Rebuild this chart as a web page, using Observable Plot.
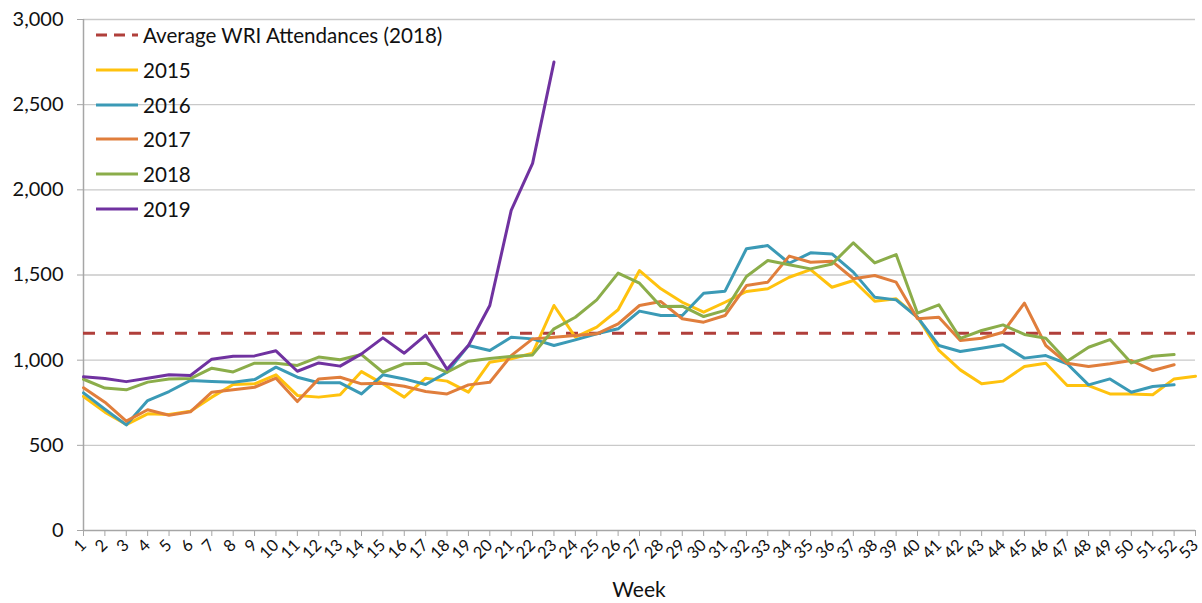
<!DOCTYPE html>
<html><head><meta charset="utf-8">
<script src="https://cdn.jsdelivr.net/npm/d3@7"></script>
<script src="https://cdn.jsdelivr.net/npm/@observablehq/plot@0.6"></script>
<style>
body{margin:0;background:#fff;font-family:Lato,"Open Sans",sans-serif;}
#wrap{position:relative;width:1202px;height:603px;}
#legend{position:absolute;left:96px;top:18px;font-size:20.6px;color:#111;}
.row{display:flex;align-items:center;height:34.7px;white-space:nowrap;}
.row svg{margin-right:5px;}
#xlabel{position:absolute;left:0;width:1278px;top:576px;text-align:center;font-size:21px;color:#111;}
</style></head>
<body>
<div id="wrap">
<div id="chart"></div>
<div id="legend"></div>
<div id="xlabel">Week</div>
</div>
<script>
const weeks = d3.range(1, 54);
const years = ["2015", "2016", "2017", "2018", "2019"];
const colors = ["#FFC20E", "#3B9AB6", "#E07E3C", "#8BAD4A", "#7032A0"];
const avgLabel = "Average WRI Attendances (2018)";
const avgColor = "#B03F3B";
const avg2018 = 1158;

const y2015 = [787,695,622,685,681,700,783,857,861,914,793,783,797,933,861,783,894,877,812,988,1008,1041,1321,1135,1194,1296,1526,1419,1340,1282,1340,1403,1419,1487,1532,1428,1468,1346,1360,1252,1057,943,861,877,963,982,851,851,802,802,797,890,906];
const y2016 = [808,712,620,763,816,881,875,871,886,959,900,867,867,802,914,890,857,929,1086,1057,1135,1125,1086,1119,1155,1184,1288,1262,1262,1393,1405,1654,1673,1569,1630,1624,1517,1370,1354,1252,1086,1051,1070,1090,1012,1027,979,855,890,812,845,855];
const y2017 = [838,753,642,709,677,697,812,826,841,894,757,890,900,861,865,847,816,802,855,870,1027,1125,1135,1145,1155,1213,1321,1344,1243,1223,1262,1438,1458,1611,1575,1581,1478,1497,1458,1243,1252,1115,1129,1164,1335,1086,982,963,979,998,939,973];
const y2018 = [888,836,826,871,890,892,953,931,982,982,969,1018,1002,1033,929,979,982,929,994,1010,1022,1031,1184,1252,1354,1511,1452,1315,1317,1256,1292,1491,1585,1560,1536,1565,1689,1571,1620,1276,1325,1128,1174,1207,1151,1129,994,1076,1121,984,1023,1033];
const y2019 = [902,892,874,894,914,910,1006,1023,1025,1055,935,984,965,1037,1131,1041,1147,947,1086,1321,1879,2155,2750];
const yTicks = [0, 500, 1000, 1500, 2000, 2500, 3000];

const series = [y2015, y2016, y2017, y2018, y2019];
const rows = [];
series.forEach((vals, i) => vals.forEach((v, j) => rows.push({year: years[i], week: weeks[j], value: v})));

const chart = Plot.plot({
  width: 1202,
  height: 603,
  marginLeft: 83,
  marginRight: 7,
  marginTop: 19,
  marginBottom: 73,
  style: {fontFamily: "Lato, 'Open Sans', sans-serif", fontSize: "20px", color: "#111", background: "#fff"},
  x: {type: "linear", domain: [1, 53]},
  y: {domain: [0, 3000]},
  color: {domain: years, range: colors},
  marks: [
    Plot.gridY(yTicks.filter(d => d > 0), {stroke: "#c9c9c9", strokeOpacity: 1, strokeWidth: 1.3}),
    Plot.axisY(yTicks, {tickSize: 6, tickPadding: 14, tickFormat: d3.format(","), stroke: "#a6a6a6", label: null, fontSize: 20}),
    Plot.axisX(weeks, {tickSize: 6, tickRotate: -45, tickPadding: 6, tickFormat: d => String(d), stroke: "#a6a6a6", label: null, fontSize: 16.5}),
    Plot.ruleX([1], {stroke: "#a6a6a6", strokeWidth: 1.5}),
    Plot.ruleY([0], {stroke: "#a6a6a6", strokeWidth: 1.5}),
    Plot.ruleY([avg2018], {x1: 1, x2: 53, stroke: avgColor, strokeWidth: 3, strokeDasharray: "12,11"}),
    Plot.line(rows, {x: "week", y: "value", z: "year", stroke: "year", strokeWidth: 3, strokeLinejoin: "round", strokeLinecap: "round"})
  ]
});
document.getElementById("chart").appendChild(chart);

const legend = document.getElementById("legend");
const items = [{label: avgLabel, color: avgColor, dash: "11,7"}].concat(years.map((y, i) => ({label: y, color: colors[i], dash: null})));
items.forEach(it => {
  const row = document.createElement("div");
  row.className = "row";
  row.innerHTML = `<svg width="42" height="6"><line x1="0" x2="42" y1="3" y2="3" stroke="${it.color}" stroke-width="3" ${it.dash ? `stroke-dasharray="${it.dash}"` : ""}/></svg><span>${it.label}</span>`;
  legend.appendChild(row);
});
</script>
</body></html>
